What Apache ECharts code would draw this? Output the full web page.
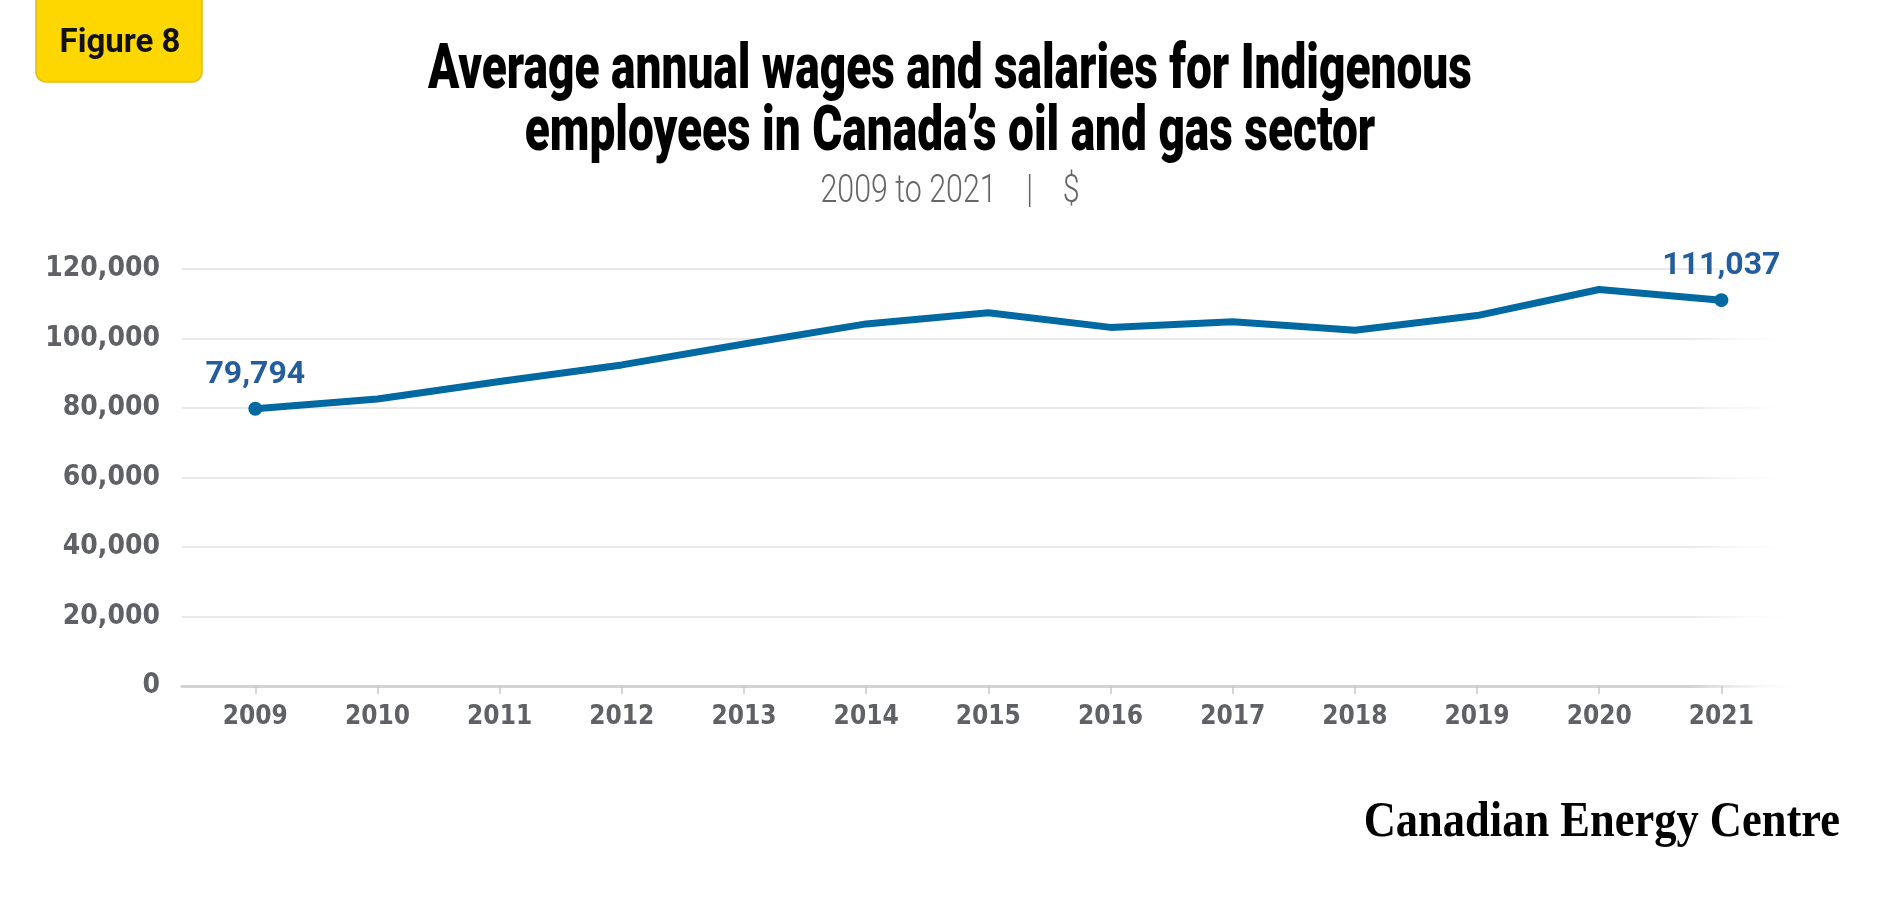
<!DOCTYPE html>
<html lang="en">
<head>
    <meta charset="UTF-8">
    <title>Average annual wages and salaries for Indigenous employees</title>
    <script src="https://cdn.jsdelivr.net/npm/echarts@6/dist/echarts.min.js"></script>
    <style>
        html, body { margin: 0; padding: 0; background: #fff; }
        #chart { width: 1900px; height: 900px; }
    </style>
</head>
<body>
<div id="chart"></div>
<script type="text/javascript">
    // data
    var years = [2009, 2010, 2011, 2012, 2013, 2014, 2015, 2016, 2017, 2018, 2019, 2020, 2021];
    var wages = [79794, 82600, 87600, 92400, 98400, 104200, 107400, 103200, 104800, 102400, 106600, 114100, 111037];
    var yTicks = [0, 20000, 40000, 60000, 80000, 100000, 120000];

    var lineBlue = '#0069a1';
    var labelBlue = '#245d9d';
    var greyText = '#5f6166';
    var condensed = "'Liberation Sans Narrow', 'DejaVu Sans Condensed', 'Roboto', sans-serif";

    function fade(c) {
        return {
            type: 'linear', x: 0, y: 0, x2: 1, y2: 0,
            colorStops: [
                { offset: 0, color: c },
                { offset: 0.93, color: c },
                { offset: 1, color: 'rgba(255,255,255,0)' }
            ]
        };
    }

    var last = years.length - 1;
    var points = years.map(function (y, i) {
        var p = { value: [y, wages[i]] };
        if (i === 0 || i === last) {
            p.symbolSize = 14;
            p.label = { show: true };
        }
        return p;
    });

    var myChart = echarts.init(document.getElementById('chart'));
    var option = {
        animation: false,
        backgroundColor: '#fff',
        grid: { left: 182, right: 98, top: 269, bottom: 214 },
        xAxis: {
            type: 'value',
            min: 2008.4,
            max: 2021.66,
            splitLine: { show: false },
            axisLine: { show: true, lineStyle: { color: fade('#d3d3d3'), width: 3 } },
            axisTick: {
                show: true,
                customValues: years,
                length: 8,
                lineStyle: { color: '#c9c9c9', width: 1.5 }
            },
            axisLabel: {
                customValues: years,
                formatter: function (v) { return String(v); },
                color: greyText,
                fontFamily: condensed,
                fontWeight: 'bold',
                fontSize: 26,
                margin: 18
            }
        },
        yAxis: {
            type: 'value',
            min: 0,
            max: 120000,
            interval: 20000,
            axisLine: { show: false },
            axisTick: { show: false },
            splitLine: { lineStyle: { color: fade('#e2e2e2'), width: 1.5 } },
            axisLabel: {
                color: greyText,
                fontFamily: condensed,
                fontWeight: 'bold',
                fontSize: 28,
                margin: 22,
                formatter: function (v) { return v.toLocaleString('en-US'); }
            }
        },
        series: [{
            type: 'line',
            data: points,
            symbol: 'circle',
            symbolSize: 0,
            showSymbol: true,
            showAllSymbol: true,
            lineStyle: { color: lineBlue, width: 7 },
            itemStyle: { color: lineBlue },
            label: {
                show: false,
                position: 'top',
                distance: 11,
                color: labelBlue,
                fontFamily: 'Roboto, sans-serif',
                fontWeight: 'bold',
                fontSize: 32,
                formatter: function (p) { return p.value[1].toLocaleString('en-US'); }
            }
        }],
        graphic: [
            {
                type: 'rect',
                shape: { x: 36, y: -12, width: 166, height: 94, r: 10 },
                style: { fill: '#ffd700', stroke: '#e2bd10', lineWidth: 1.5 }
            },
            {
                type: 'text',
                x: 120, y: 44,
                style: {
                    text: 'Figure 8', fill: '#111',
                    font: 'bold 33px Roboto, sans-serif',
                    align: 'center', verticalAlign: 'middle'
                }
            },
            {
                type: 'text',
                x: 950, y: 72, scaleX: 0.73,
                style: {
                    text: 'Average annual wages and salaries for Indigenous',
                    fill: '#000',
                    font: '900 63px Roboto, sans-serif',
                    align: 'center', verticalAlign: 'middle'
                }
            },
            {
                type: 'text',
                x: 950, y: 134, scaleX: 0.73,
                style: {
                    text: 'employees in Canada\u2019s oil and gas sector',
                    fill: '#000',
                    font: '900 63px Roboto, sans-serif',
                    align: 'center', verticalAlign: 'middle'
                }
            },
            {
                type: 'text',
                x: 950, y: 192, scaleX: 0.8,
                style: {
                    text: '2009 to 2021    |    $',
                    fill: '#666',
                    font: '300 38px Roboto, sans-serif',
                    align: 'center', verticalAlign: 'middle'
                }
            },
            {
                type: 'text',
                x: 1840, y: 823, scaleX: 0.89,
                style: {
                    text: 'Canadian Energy Centre',
                    fill: '#000',
                    font: 'bold 50px "Liberation Serif", "DejaVu Serif", serif',
                    align: 'right', verticalAlign: 'middle'
                }
            }
        ]
    };
    myChart.setOption(option);
</script>
</body>
</html>
